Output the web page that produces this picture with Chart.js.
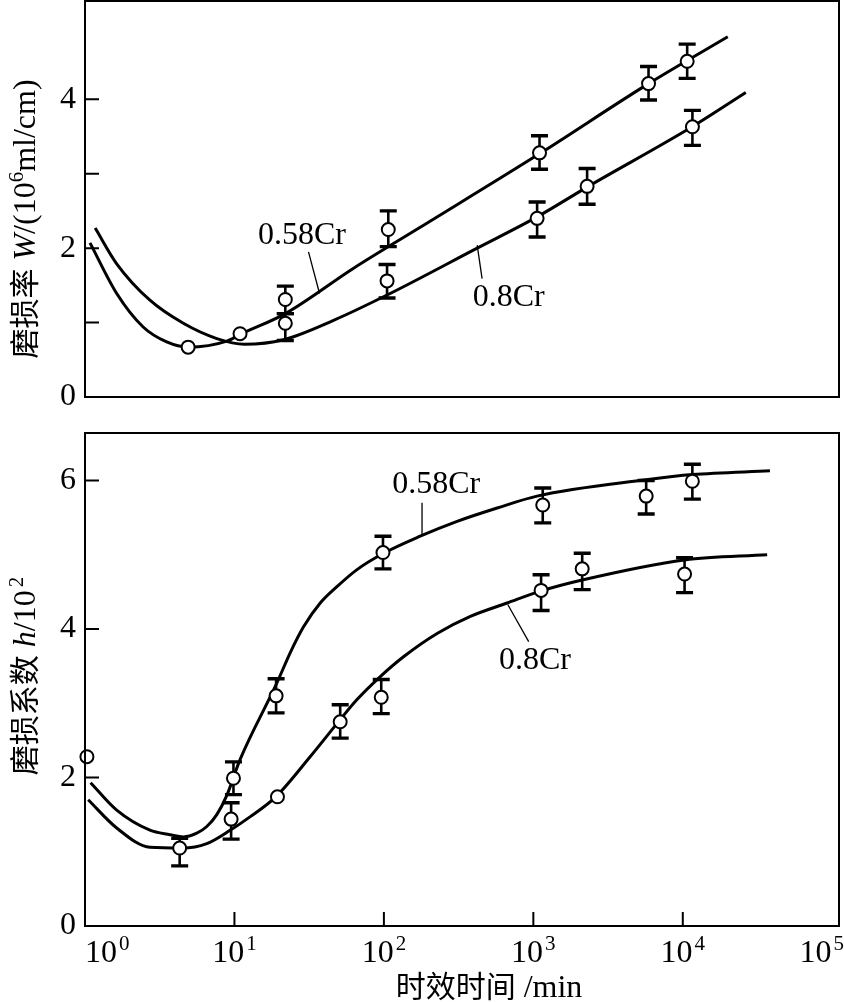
<!DOCTYPE html>
<html>
<head>
<meta charset="utf-8">
<title>时效时间对磨损率和磨损系数的影响</title>
<script src="https://cdn.jsdelivr.net/npm/chart.js@4.4.1/dist/chart.umd.min.js"></script>
<style>
  html, body { margin: 0; padding: 0; background: #fff; }
  #wrap { position: relative; width: 844px; height: 1002px; }
  canvas { position: absolute; left: 0; }
  #topChart { top: 0; }
  #bottomChart { top: 420px; }
</style>
</head>
<body>
<div id="wrap">
  <canvas id="topChart" width="844" height="420"></canvas>
  <canvas id="bottomChart" width="844" height="582"></canvas>
</div>
<script>
// values, x = aging time in min (log axis)

// top panel: wear rate W / (10^6 ml/cm)
const wTimeA = [4.9, 10.9, 21.9, 107, 1100, 5900, 10700];   // 0.58Cr
const wA = [0.67, 0.85, 1.31, 2.25, 3.28, 4.21, 4.51];
const wLowA = [null, null, 1.12, 2.02, 3.06, 3.99, 4.28];
const wHighA = [null, null, 1.49, 2.50, 3.51, 4.44, 4.74];

const wTimeB = [21.9, 105, 1060, 2290, 11600];               // 0.8Cr
const wB = [0.99, 1.56, 2.40, 2.83, 3.63];
const wLowB = [0.76, 1.33, 2.15, 2.59, 3.38];
const wHighB = [1.12, 1.78, 2.62, 3.07, 3.85];

const wFitTimeA = [1.08, 1.63, 2.45, 3.52, 4.92, 8.9, 10.9, 21.9, 62.7, 175, 1104, 5900, 20000];
const wFitA = [2.07, 1.39, 0.94, 0.74, 0.67, 0.75, 0.84, 1.12, 1.73, 2.28, 3.27, 4.21, 4.84];
const wFitTimeB = [1.17, 1.63, 2.72, 4.55, 7.62, 11.7, 21.3, 46, 105, 421, 1060, 2290, 11560, 26400];
const wFitB = [2.27, 1.79, 1.30, 0.99, 0.785, 0.71, 0.77, 1.03, 1.37, 2.00, 2.42, 2.82, 3.63, 4.09];

// bottom panel: wear coefficient h / 10^2
const hTimeA = [1.03, 9.85, 19.0, 98.6, 1156, 5690, 11590];  // 0.58Cr
const hA = [2.28, 1.99, 3.10, 5.03, 5.67, 5.79, 5.99];
const hLowA = [null, 1.77, 2.87, 4.81, 5.43, 5.55, 5.75];
const hHighA = [null, 2.21, 3.33, 5.25, 5.90, 6.00, 6.22];

const hTimeB = [4.3, 9.5, 19.4, 51, 96, 1127, 2123, 10280];  // 0.8Cr
const hB = [1.05, 1.44, 1.74, 2.75, 3.08, 4.52, 4.81, 4.74];
const hLowB = [0.81, 1.17, null, 2.53, 2.86, 4.25, 4.53, 4.49];
const hHighB = [1.18, 1.66, null, 2.98, 3.32, 4.73, 5.02, 4.96];

const hFitTimeA = [1.09, 1.63, 2.72, 3.71, 4.55, 5.60, 6.53, 7.62, 8.89, 10.9, 19.2, 23.6, 29.0, 37.5, 48.5, 66.1, 99.5, 175, 309, 573, 1059, 5690, 11590, 38300];
const hFitA = [1.93, 1.56, 1.29, 1.23, 1.20, 1.25, 1.34, 1.50, 1.76, 2.24, 3.27, 3.68, 4.03, 4.35, 4.57, 4.80, 5.02, 5.25, 5.45, 5.63, 5.79, 6.01, 6.08, 6.13];
const hFitTimeB = [1.05, 1.63, 2.72, 4.49, 6.53, 9.36, 12.7, 18.9, 32.1, 51, 66.1, 94.6, 136, 227, 379, 667, 1117, 2123, 10280, 36700];
const hFitB = [1.70, 1.32, 1.06, 1.05, 1.11, 1.29, 1.47, 1.74, 2.28, 2.78, 3.05, 3.36, 3.63, 3.94, 4.17, 4.35, 4.51, 4.66, 4.93, 5.00];

// axes
const xMin = 1, xMax = 111000;
const xTickExps = [0, 1, 2, 3, 4, 5];
const wLabelTicks = [0, 2, 4];
const wMarkTicks = [1, 2, 3, 4];
const hLabelTicks = [0, 2, 4, 6];
const hMarkTicks = [2, 4, 6];

const SERIF = '"Liberation Serif", "Times New Roman", serif';
const CJK = '"Noto Sans CJK SC", "Noto Sans CJK JP", sans-serif';

function pts(xs, ys) {
    return xs.map((x, i) => ({ x: x, y: ys[i] }));
}

function drawRich(ctx, segs, x, y) {
    let w = 0;
    segs.forEach(s => { ctx.font = s.font; s.w = ctx.measureText(s.text).width + (s.gap || 0); w += s.w; });
    let cx = x - w / 2;
    segs.forEach(s => {
        ctx.font = s.font;
        ctx.fillText(s.text, cx + (s.gap || 0), y + (s.dy || 0));
        cx += s.w;
    });
}

// frame, inward ticks, tick labels, error bars, curve labels and axis titles
function decor(cfg) {
    return {
        id: 'decor',
        beforeDatasetsDraw(chart) {
            const { ctx, scales: { x, y } } = chart;
            ctx.save();
            ctx.strokeStyle = '#000';
            cfg.bars.forEach(s => {
                s.t.forEach((t, i) => {
                    if (s.lo[i] == null) return;
                    const px = x.getPixelForValue(t);
                    const y1 = y.getPixelForValue(s.lo[i]);
                    const y2 = y.getPixelForValue(s.hi[i]);
                    ctx.lineWidth = 2.6;
                    ctx.beginPath();
                    ctx.moveTo(px, y1); ctx.lineTo(px, y2);
                    ctx.stroke();
                    ctx.lineWidth = 3.4;
                    ctx.beginPath();
                    ctx.moveTo(px - 8.5, y1); ctx.lineTo(px + 8.5, y1);
                    ctx.moveTo(px - 8.5, y2); ctx.lineTo(px + 8.5, y2);
                    ctx.stroke();
                });
            });
            ctx.restore();
        },
        afterDatasetsDraw(chart) {
            const { ctx, scales: { x, y } } = chart;
            ctx.save();
            ctx.fillStyle = '#000';
            ctx.strokeStyle = '#000';
            ctx.lineWidth = 1.3;
            ctx.font = '32px ' + SERIF;
            ctx.textAlign = 'center';
            ctx.textBaseline = 'middle';
            cfg.notes.forEach(n => {
                ctx.fillText(n.text, x.getPixelForValue(n.t), y.getPixelForValue(n.v));
                ctx.beginPath();
                ctx.moveTo(x.getPixelForValue(n.from[0]), y.getPixelForValue(n.from[1]));
                ctx.lineTo(x.getPixelForValue(n.to[0]), y.getPixelForValue(n.to[1]));
                ctx.stroke();
            });
            ctx.restore();
        },
        afterDraw(chart) {
            const { ctx, chartArea: a, scales: { x, y } } = chart;
            ctx.save();
            ctx.strokeStyle = '#000';
            ctx.fillStyle = '#000';
            ctx.lineWidth = 2;
            ctx.strokeRect(a.left, a.top, a.right - a.left, a.bottom - a.top);

            ctx.beginPath();
            cfg.yMarks.forEach(v => {
                const py = y.getPixelForValue(v);
                ctx.moveTo(a.left, py); ctx.lineTo(a.left + 14, py);
            });
            (cfg.xMarks || []).forEach(e => {
                const px = x.getPixelForValue(Math.pow(10, e));
                ctx.moveTo(px, a.bottom); ctx.lineTo(px, a.bottom - 14);
            });
            ctx.stroke();

            // y tick labels
            ctx.font = '32px ' + SERIF;
            ctx.textAlign = 'right';
            ctx.textBaseline = 'middle';
            cfg.yLabels.forEach(v => {
                ctx.fillText(String(v), a.left - 9, y.getPixelForValue(v));
            });

            ctx.textBaseline = 'alphabetic';
            ctx.textAlign = 'left';
            if (cfg.xLabels) {
                cfg.xLabels.forEach(e => {
                    const px = x.getPixelForValue(Math.pow(10, e));
                    ctx.font = '32px ' + SERIF;
                    const w1 = ctx.measureText('10').width;
                    ctx.font = '21px ' + SERIF;
                    const w2 = ctx.measureText(String(e)).width;
                    const w = w1 + 2 + w2;
                    let left = px - w / 2;
                    if (left < a.left) left = a.left;
                    if (left + w > chart.width) left = chart.width - w;
                    const base = a.bottom + 36;
                    ctx.font = '32px ' + SERIF;
                    ctx.fillText('10', left, base);
                    ctx.font = '21px ' + SERIF;
                    ctx.fillText(String(e), left + w1 + 2, base - 12);
                });
            }

            if (cfg.xTitle) {
                drawRich(ctx, cfg.xTitle.segs, cfg.xTitle.x, cfg.xTitle.y);
            }
            if (cfg.yTitle) {
                ctx.translate(cfg.yTitle.x, cfg.yTitle.y);
                ctx.rotate(-Math.PI / 2);
                drawRich(ctx, cfg.yTitle.segs, 0, 0);
            }
            ctx.restore();
        }
    };
}

function makeChart(id, o) {
    return new Chart(document.getElementById(id), {
        type: 'scatter',
        data: {
            datasets: [
                {
                    data: pts(o.tA, o.vA), order: 0, clip: false,
                    pointRadius: 6.5, pointBorderWidth: 2,
                    pointBackgroundColor: '#fff', pointBorderColor: '#000'
                },
                {
                    data: pts(o.tB, o.vB), order: 0, clip: false,
                    pointRadius: 6.5, pointBorderWidth: 2,
                    pointBackgroundColor: '#fff', pointBorderColor: '#000'
                },
                {
                    data: pts(o.fitTA, o.fitA), order: 1, showLine: true,
                    pointRadius: 0, borderWidth: 3, borderColor: '#000',
                    cubicInterpolationMode: 'monotone'
                },
                {
                    data: pts(o.fitTB, o.fitB), order: 1, showLine: true,
                    pointRadius: 0, borderWidth: 3, borderColor: '#000',
                    cubicInterpolationMode: 'monotone'
                }
            ]
        },
        options: {
            responsive: false,
            animation: false,
            devicePixelRatio: 1,
            events: [],
            layout: { autoPadding: false, padding: o.padding },
            plugins: { legend: { display: false }, tooltip: { enabled: false } },
            scales: {
                x: { type: 'logarithmic', min: xMin, max: xMax, display: false },
                y: { type: 'linear', min: 0, max: o.yMax, display: false }
            }
        },
        plugins: [decor(o.decor)]
    });
}

makeChart('topChart', {
    tA: wTimeA, vA: wA, tB: wTimeB, vB: wB,
    fitTA: wFitTimeA, fitA: wFitA, fitTB: wFitTimeB, fitB: wFitB,
    yMax: 5.32,
    padding: { left: 85, right: 5, top: 1, bottom: 23 },
    decor: {
        bars: [
            { t: wTimeA, lo: wLowA, hi: wHighA },
            { t: wTimeB, lo: wLowB, hi: wHighB }
        ],
        notes: [
            { text: '0.58Cr', t: 28.3, v: 2.17, from: [31.3, 1.95], to: [37.1, 1.39] },
            { text: '0.8Cr', t: 684, v: 1.34, from: [454, 1.59], to: [421, 2.04] }
        ],
        yMarks: wMarkTicks,
        yLabels: wLabelTicks,
        yTitle: {
            x: 35, y: 219,
            segs: [
                { text: '磨损率', font: '30px ' + CJK },
                { text: 'W', font: 'italic 32px ' + SERIF, gap: 8 },
                { text: '/(10', font: '32px ' + SERIF },
                { text: '6', font: '21px ' + SERIF, dy: -12 },
                { text: 'ml/cm)', font: '32px ' + SERIF }
            ]
        }
    }
});

makeChart('bottomChart', {
    tA: hTimeA, vA: hA, tB: hTimeB, vB: hB,
    fitTA: hFitTimeA, fitA: hFitA, fitTB: hFitTimeB, fitB: hFitB,
    yMax: 6.64,
    padding: { left: 85, right: 5, top: 13, bottom: 76 },
    decor: {
        bars: [
            { t: hTimeA, lo: hLowA, hi: hHighA },
            { t: hTimeB, lo: hLowB, hi: hHighB }
        ],
        notes: [
            { text: '0.58Cr', t: 224, v: 5.94, from: [180, 5.70], to: [180, 5.27] },
            { text: '0.8Cr', t: 1025, v: 3.58, from: [931, 3.83], to: [674, 4.33] }
        ],
        yMarks: hMarkTicks,
        yLabels: hLabelTicks,
        xMarks: [1, 2, 3, 4],
        xLabels: xTickExps,
        xTitle: {
            x: 489, y: 577,
            segs: [
                { text: '时效时间', font: '30px ' + CJK },
                { text: ' /min', font: '32px ' + SERIF }
            ]
        },
        yTitle: {
            x: 35, y: 256,
            segs: [
                { text: '磨损系数', font: '30px ' + CJK },
                { text: 'h', font: 'italic 32px ' + SERIF, gap: 8 },
                { text: '/10', font: '32px ' + SERIF },
                { text: '2', font: '21px ' + SERIF, dy: -12, gap: 3 }
            ]
        }
    }
});
</script>
</body>
</html>
